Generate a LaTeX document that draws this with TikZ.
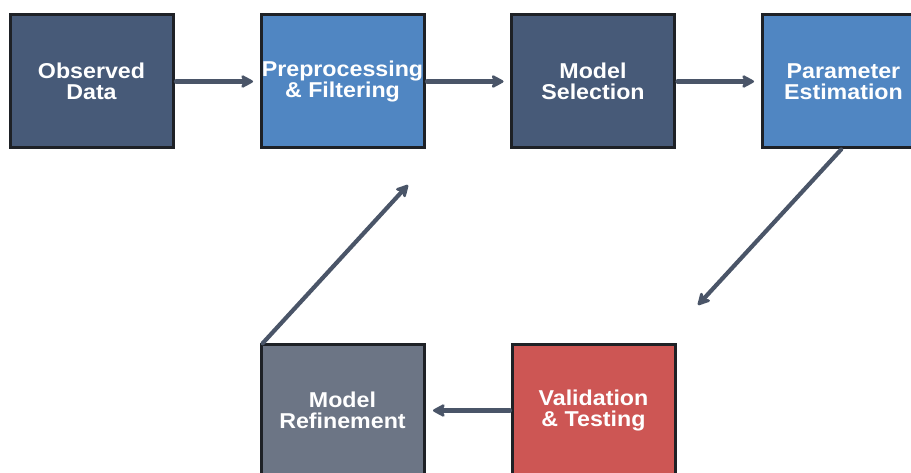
\documentclass[tikz,border=0pt]{standalone}
\usepackage{fontspec}
\setmainfont[FakeStretch=1.08]{Liberation Sans}
\usetikzlibrary{arrows.meta}

\definecolor{slateblue}{RGB}{71,90,120}
\definecolor{midblue}{RGB}{80,134,194}
\definecolor{slategray}{RGB}{108,117,133}
\definecolor{softred}{RGB}{205,86,84}
\definecolor{edgecol}{RGB}{30,33,38}
\definecolor{arrowcol}{RGB}{74,85,104}

\tikzset{
  stage/.style={draw=edgecol, line width=3pt, minimum width=163pt, minimum height=133pt,
    outer sep=0pt, inner sep=0pt, align=center, text=white,
    font=\bfseries\fontsize{21.5}{21}\selectfont},
  flow/.style={draw=arrowcol, line width=4.2pt, line cap=round,
    -{Stealth[length=15pt,width=16pt,inset=4.5pt,round]}},
}

\begin{document}
\begin{tikzpicture}[x=1pt,y=-1pt]
  \useasboundingbox (0,0) rectangle (911,473);
  \clip (0,0) rectangle (911,473);

  % top row
  \node[stage, fill=slateblue] (obs)   at (91.5,81.5)  {Observed\\Data};
  \node[stage, fill=midblue]   (pre)   at (342.5,81.5) {Preprocessing\\\& Filtering};
  \node[stage, fill=slateblue] (sel)   at (593,81.5)   {Model\\Selection};
  \node[stage, fill=midblue]   (par)   at (843.5,81.5) {Parameter\\Estimation};

  % bottom row
  \node[stage, fill=slategray] (ref)   at (342.5,410.5) {Model\\Refinement};
  \node[stage, fill=softred]   (val)   at (593.5,410.5) {Validation\\\& Testing};

  % free ends of the diagonal arrows
  \coordinate (downtip) at (698,305);
  \coordinate (uptip)   at (408,185);

  % connectors
  \draw[flow, shorten <=3pt, shorten >=8pt] (obs.east) -- (pre.west);
  \draw[flow, shorten <=3pt, shorten >=8pt] (pre.east) -- (sel.west);
  \draw[flow, shorten <=3pt, shorten >=8pt] (sel.east) -- (par.west);
  \draw[flow, shorten <=2pt] ([xshift=-1pt]par.south) -- (downtip);
  \draw[flow, shorten <=2pt, shorten >=9pt] (val.west) -- (ref.east);
  \draw[flow, shorten <=1pt] ([xshift=1pt]ref.north west) -- (uptip);
\end{tikzpicture}
\end{document}
